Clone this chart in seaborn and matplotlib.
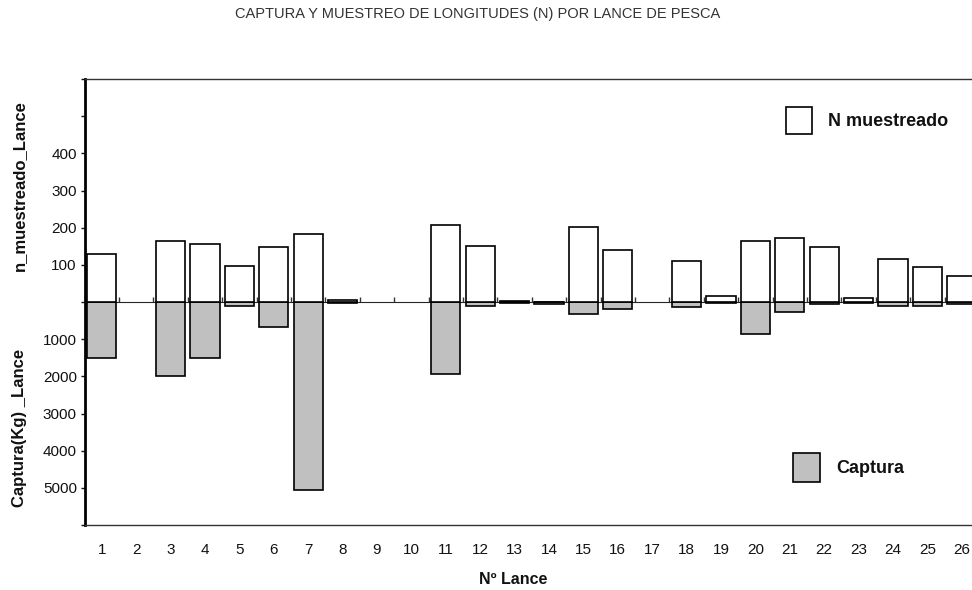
import numpy as np
import pandas as pd
import matplotlib
matplotlib.use("Agg")
import matplotlib.pyplot as plt
from matplotlib.patches import Patch
import seaborn as sns

# Datos por lance (NaN = lance sin datos)
lances = [str(i) for i in range(1, 27)]
n_muestreado = [130, np.nan, 164, 157, 98, 148, 182, 5, np.nan, np.nan,
                206, 152, 3, 1, 202, 139, np.nan, 111, 15, 165,
                172, 147, 11, 115, 95, 69]
captura_kg = [1500, np.nan, 2000, 1500, 95, 680, 5050, 40, np.nan, np.nan,
              1930, 100, 40, 50, 310, 180, np.nan, 130, 40, 850,
              260, 50, 40, 95, 95, 60]

# eje compartido: arriba N, abajo captura/10
ytick_vals = list(range(-600, 700, 100))
ytick_labels = ["", "5000", "4000", "3000", "2000", "1000", "",
                "100", "200", "300", "400", "", ""]

data = pd.DataFrame({"lance": lances,
                     "n": n_muestreado,
                     "captura": [-c / 10 for c in captura_kg]})

sns.set_style("white")
plt.rcParams["font.family"] = ["Liberation Sans", "DejaVu Sans"]
plt.rcParams["text.color"] = "#111111"
plt.rcParams["axes.labelcolor"] = "#111111"
plt.rcParams["xtick.color"] = "#111111"
plt.rcParams["ytick.color"] = "#111111"

fig = plt.figure(figsize=(9.72, 5.9), dpi=100)
ax = fig.add_axes([84.5 / 972, 1 - 525 / 590, 894.5 / 972, 446 / 590])

sns.barplot(data=data, x="lance", y="captura", order=lances, color="#c0c0c0",
            edgecolor="black", linewidth=1.2, width=0.85, errorbar=None,
            saturation=1, ax=ax)
sns.barplot(data=data, x="lance", y="n", order=lances, color="white",
            edgecolor="black", linewidth=1.2, width=0.85, errorbar=None,
            saturation=1, ax=ax)

ax.set_xlim(-0.5, len(lances) - 0.5)
ax.set_ylim(-600, 600)
ax.set_yticks(ytick_vals)
ax.set_yticklabels(ytick_labels)
ax.tick_params(axis="y", direction="out", length=3, width=1, pad=2.5,
               labelsize=11, left=True)
ax.tick_params(axis="x", length=0, pad=13, labelsize=11)
ax.set_ylabel("")
ax.set_xlabel("Nº Lance", fontsize=11.5, fontweight="bold")
ax.xaxis.set_label_coords((513 - 84.5) / 894.5, (525 - 579) / 446)
ax.xaxis.label.set_va("center")

for side in ["top", "bottom"]:
    ax.spines[side].set_color("#333333")
    ax.spines[side].set_linewidth(1)
ax.spines["left"].set_color("black")
ax.spines["left"].set_linewidth(2)
ax.spines["right"].set_visible(False)

# linea de cero con marcas entre lances
sec = ax.secondary_xaxis(0.5)
sec.set_xticks(np.arange(len(lances) - 1) + 0.5)
sec.set_xticklabels([])
sec.tick_params(direction="out", length=3.5, width=1, color="#333333")
sec.spines["bottom"].set_linewidth(1)
sec.spines["bottom"].set_color("#222222")

ax.text(-0.0732, (525 - 186) / 446, "n_muestreado_Lance", rotation=90,
        transform=ax.transAxes, ha="center", va="center",
        fontsize=12, fontweight="bold")
ax.text(-0.0732, (525 - 427.5) / 446, "Captura(Kg) _Lance", rotation=90,
        transform=ax.transAxes, ha="center", va="center",
        fontsize=12, fontweight="bold")

fig.suptitle("CAPTURA Y MUESTREO DE LONGITUDES (N) POR LANCE DE PESCA",
             x=478 / 972, y=1 - 14 / 590, va="center", fontsize=10.5,
             color="#333333")

leg_font = {"weight": "bold", "size": 13}
leg1 = ax.legend(handles=[Patch(facecolor="white", edgecolor="black", linewidth=1.2)],
                 labels=["N muestreado"], loc="upper left",
                 bbox_to_anchor=(0.784, 0.938), frameon=False, prop=leg_font,
                 handlelength=1.45, handleheight=1.95, handletextpad=0.9,
                 borderpad=0, borderaxespad=0)
ax.add_artist(leg1)
ax.legend(handles=[Patch(facecolor="#c0c0c0", edgecolor="black", linewidth=1.2)],
          labels=["Captura"], loc="upper left",
          bbox_to_anchor=(0.792, 0.162), frameon=False, prop=leg_font,
          handlelength=1.5, handleheight=2.1, handletextpad=0.9,
          borderpad=0, borderaxespad=0)

fig.savefig("out.png", dpi=100)
